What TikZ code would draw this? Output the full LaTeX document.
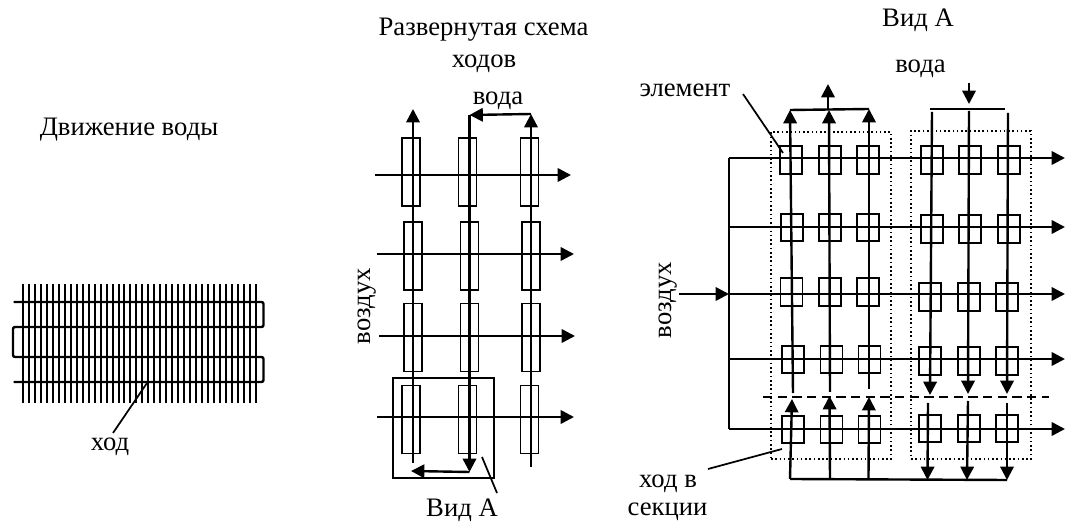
\documentclass[tikz,border=0pt]{standalone}
\usepackage{fontspec}
\setmainfont{Liberation Serif}
\usetikzlibrary{arrows.meta}
\tikzset{
  flow/.style={line width=1.8pt},
  air/.style={line width=1.9pt},
  finline/.style={line width=1.5pt},
  boxline/.style={draw,line width=1.4pt,inner sep=0pt},
  tube/.style={boxline,minimum width=13.5pt,minimum height=51pt},
  cell/.style={boxline,minimum width=16.5pt,minimum height=20.5pt},
  txt/.style={font=\fontsize{20}{20}\selectfont,inner sep=0pt},
  lead/.style={line width=1.3pt}
}
\begin{document}
\begin{tikzpicture}[x=.75pt,y=-.75pt,>={Triangle[length=10pt,width=10pt]}]
  \useasboundingbox (0,0) rectangle (1065,523);
  % coil
  \node[txt] (motion) at (129,130) {Движение воды};
  \foreach \i in {0,...,39}
    \draw[finline] (23+\i*5.97,284) -- (23+\i*5.97,403);
  \draw[flow,rounded corners=1.5pt] (13.5,302) -- (263.5,302) -- (263.5,327) -- (13,327)
    -- (13,357) -- (263.5,357) -- (263.5,382) -- (13.5,382);
  \node[txt] (pass) at (110,447) {ход};
  \coordinate (passend) at (147,383);
  \draw[lead] (113,433) -- (passend);

  % passes
  \node[txt] (title) at (483.5,30) {Развернутая схема};
  \node[txt] (titleb) at (484,64) {ходов};
  \foreach \r/\cy/\xa/\xb/\xc in {1/172/411/467.5/529.5,2/256/413/469.5/531,3/337.5/413/469.5/531,4/419.5/411/467.5/529.5}{
    \node[tube] (t\r a) at (\xa,\cy) {};
    \node[tube] (t\r b) at (\xb,\cy) {};
    \node[tube] (t\r c) at (\xc,\cy) {};
  }
  \foreach \n/\ya/\xa/\xb in {1/175/375/571,2/254/377/574,3/336/379/575,4/417/377/574}
    \draw[->,air] (\xa,\ya) coordinate (ain\n) -- (\xb,\ya) coordinate (aout\n);
  \draw[->,flow] (413,463) -- (413,109);
  \coordinate (topb) at (469.5,115);
  \coordinate (topc) at (531,114);
  \coordinate (botb) at (469.5,472);
  \coordinate (bota) at (411,471);
  \draw[->,flow] (topb) -- (botb);
  \draw[->,flow] (531,467) -- (topc);
  \draw[->,flow] (topc) -- (topb);
  \draw[->,flow] (botb) -- (bota);
  \node[txt] (water) at (498,101) {вода};
  \node[txt,rotate=90] (airlabel) at (367,306) {воздух};
  \node[draw,line width=1.4pt,minimum width=75.75pt,minimum height=75pt,inner sep=0pt] (viewbox) at (443.5,428) {};
  \coordinate (cutend) at (497,493);
  \draw[lead] (482,457) -- (cutend);
  \node[txt] (view) at (462,510) {Вид А};

  % view A
  \node[txt] (viewb) at (918,20) {Вид А};
  \node[txt] (waterb) at (920.5,69) {вода};
  \node[txt] (elem) at (685,90) {элемент};
  \node[txt,rotate=90] (airb) at (668,300) {воздух};
  \node[txt] (sect) at (668,484) {ход в};
  \node[txt] (sectb) at (667.5,512) {секции};
  \node[draw,dotted,line width=1.2pt,minimum width=90pt,minimum height=245.25pt,inner sep=0pt] (secta) at (831,295.5) {};
  \node[draw,dotted,line width=1.2pt,minimum width=90pt,minimum height=246pt,inner sep=0pt] (sectc) at (971,295) {};
  \foreach \r/\ya/\yb/\xa/\xb/\xc/\xd/\xe/\xf in {
    1/160/160/791/830/868/932/970/1009,
    2/227.5/229/792/830/868/932/970/1009,
    3/292/297/791.5/830/868/930/969/1007,
    4/359.5/361/793/831.5/869.5/930/969/1007,
    5/429.5/428.5/793/831.5/869.5/930/969/1007}{
    \node[cell] (c\r a) at (\xa,\ya) {};
    \node[cell] (c\r b) at (\xb,\ya) {};
    \node[cell] (c\r c) at (\xc,\ya) {};
    \node[cell] (c\r d) at (\xd,\yb) {};
    \node[cell] (c\r e) at (\xe,\yb) {};
    \node[cell] (c\r f) at (\xf,\yb) {};
  }
  \foreach \n/\ya in {1/158,2/227,3/294,4/359,5/429}{
    \coordinate (rowin\n) at (729,\ya);
    \coordinate (rowout\n) at (1065,\ya);
    \draw[->,air] (rowin\n) -- (rowout\n);
  }
  \draw[air] (rowin1) -- (rowin5);
  \coordinate (airin) at (679,294);
  \draw[->,air] (airin) -- (rowin3);
  % upper sections
  \foreach \n/\xa/\ya/\xb/\yb in {1/793/393/790/110,2/830/392/829/110,3/869/389/869/109}
    \draw[->,flow] (\xa,\ya) -- (\xb,\yb) coordinate (upout\n);
  \foreach \n/\xa/\ya/\xb/\yb in {1/932/112/930/395,2/969/111/968/394,3/1008/113/1007/394}
    \draw[->,flow] (\xa,\ya) coordinate (downin\n) -- (\xb,\yb);
  \draw[flow] (upout1) -- (upout3);
  \coordinate (outtop) at (828,84);
  \coordinate (outbase) at (828,109);
  \draw[->,flow] (outbase) -- (outtop);
  \coordinate (inbar) at (969,104);
  \coordinate (inbarb) at (969,83);
  \draw[->,flow] (inbarb) -- (inbar);
  \draw[flow] (930,109) -- (1005,109);
  \draw[flow,dash pattern=on 7pt off 4pt,line width=1.2pt] (763,397) -- (1049,397);
  % lower sections
  \foreach \n/\xa/\ya/\xb/\yb in {1/790/479/792/399,2/830/479/829.5/396,3/868.5/478/869/397}
    \draw[->,flow] (\xa,\ya) coordinate (lowin\n) -- (\xb,\yb);
  \foreach \n/\xa/\ya/\xb/\yb in {1/928/403/927.5/480,2/968/401/967/480,3/1007/403/1007/480}
    \draw[->,flow] (\xa,\ya) -- (\xb,\yb) coordinate (lowout\n);
  \draw[flow] (lowin1) -- (lowout3);
  \coordinate (elemend) at (783,153);
  \draw[lead] (743,94) -- (elemend);
  \coordinate (sectend) at (782,449);
  \draw[lead] (708,469) -- (sectend);
\end{tikzpicture}
\end{document}
